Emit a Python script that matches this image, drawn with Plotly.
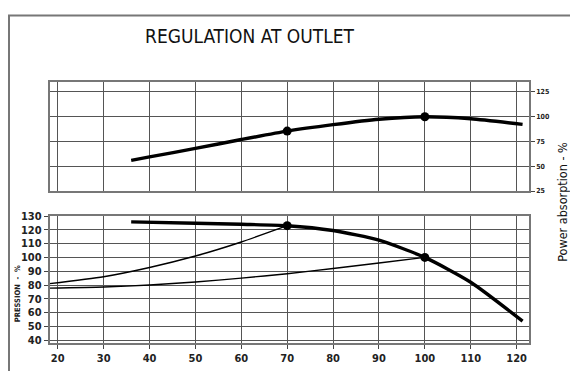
import plotly.graph_objects as go

# ---- data ----
flow_power = [36, 40, 50, 60, 70, 80, 90, 100, 110, 121.3]
power_pct = [56, 59.5, 68, 77, 85.5, 92, 97.5, 100, 98, 92.3]
power_pts_x = [70, 100]
power_pts_y = [85.5, 100]

flow_pump = [36, 50, 60, 70, 80, 90, 100, 110, 121.3]
pressure_pump = [125.8, 124.8, 124, 123, 119.5, 112.5, 100, 82, 53.8]

flow_sysA = [18.2, 30, 40, 50, 60, 70]
pressure_sysA = [81, 86, 92.7, 101, 111.2, 123]

flow_sysB = [18.2, 30, 40, 50, 60, 70, 80, 90, 100]
pressure_sysB = [77.7, 78.5, 80, 82.2, 85, 88.2, 92, 96, 100]

press_pts_x = [70, 100]
press_pts_y = [123, 100]

x_ticks = [20, 30, 40, 50, 60, 70, 80, 90, 100, 110, 120]
power_ticks = [25, 50, 75, 100, 125]
press_ticks = [40, 50, 60, 70, 80, 90, 100, 110, 120, 130]

# page is 578x375; the html body has an 8px margin, so the figure itself is 570x367
OFF = 8
W, H = 578 - OFF, 375 - OFF


def px(x):
    return (x - OFF) / W


def py(y):
    return 1 - (y - OFF) / H


FONT = "DejaVu Sans Condensed, Liberation Sans, Arial, sans-serif"
NARROW = "Liberation Sans Narrow, DejaVu Sans Condensed, Liberation Sans, sans-serif"

fig = go.Figure()

thick = dict(color="black", width=3.4, shape="spline", smoothing=0.6)
thin = dict(color="black", width=1.4, shape="spline", smoothing=0.6)
mk = dict(color="black", size=9)

fig.add_trace(go.Scatter(x=flow_power, y=power_pct, mode="lines", line=thick,
                         xaxis="x", yaxis="y", hoverinfo="skip"))
fig.add_trace(go.Scatter(x=power_pts_x, y=power_pts_y, mode="markers", marker=mk,
                         xaxis="x", yaxis="y"))

fig.add_trace(go.Scatter(x=flow_sysA, y=pressure_sysA, mode="lines", line=thin,
                         xaxis="x2", yaxis="y2"))
fig.add_trace(go.Scatter(x=flow_sysB, y=pressure_sysB, mode="lines", line=thin,
                         xaxis="x2", yaxis="y2"))
fig.add_trace(go.Scatter(x=flow_pump, y=pressure_pump, mode="lines", line=thick,
                         xaxis="x2", yaxis="y2"))
fig.add_trace(go.Scatter(x=press_pts_x, y=press_pts_y, mode="markers", marker=mk,
                         xaxis="x2", yaxis="y2"))

xdom = [px(49.5), px(529)]
grid = "#555555"
frame = "#777777"

common_x = dict(range=[18.2, 122.7], tickvals=x_ticks, showgrid=True, gridcolor=grid,
                gridwidth=1, zeroline=False, showline=True, linecolor=frame, linewidth=1.5,
                mirror=True, domain=xdom)

fig.update_layout(
    width=W, height=H, margin=dict(l=0, r=0, t=0, b=0),
    paper_bgcolor="white", plot_bgcolor="white", showlegend=False,
    xaxis=dict(**common_x, anchor="y", showticklabels=False, ticks=""),
    yaxis=dict(range=[25, 135], tickvals=power_ticks, side="right", anchor="x",
               domain=[py(190), py(78)], showgrid=True, gridcolor=grid,
               zeroline=False, showline=True, linecolor=frame, linewidth=1.5, mirror=True,
               ticks="outside", ticklen=4, tickcolor="#444",
               tickfont=dict(family=FONT, size=7, color="#222", weight="bold")),
    xaxis2=dict(**common_x, anchor="y2", ticks="outside", ticklen=4, tickcolor="#444",
                tickfont=dict(family=FONT, size=11, color="#222", weight="bold")),
    yaxis2=dict(range=[37.6, 130], tickvals=press_ticks, anchor="x2",
                domain=[py(346.7), py(215.7)], showgrid=True, gridcolor=grid,
                zeroline=False, showline=True, linecolor=frame, linewidth=1.5, mirror=True,
                ticks="outside", ticklen=4, tickcolor="#444",
                tickfont=dict(family=FONT, size=11, color="#222", weight="bold")),
    shapes=[
        dict(type="line", xref="paper", yref="paper", x0=px(9), x1=px(9),
             y0=0, y1=py(9.5), line=dict(color="#777", width=2)),
        dict(type="line", xref="paper", yref="paper", x0=px(8), x1=1,
             y0=py(9.5), y1=py(9.5), line=dict(color="#777", width=2)),
    ],
    annotations=[
        dict(text="REGULATION AT OUTLET", xref="paper", yref="paper",
             x=px(250), y=py(31), showarrow=False, xanchor="center", yanchor="middle",
             font=dict(family=NARROW, size=19, color="#111")),
        dict(text="Power absorption - %", xref="paper", yref="paper",
             x=px(563), y=py(201), showarrow=False, textangle=-90,
             xanchor="center", yanchor="middle",
             font=dict(family=NARROW, size=12.5, color="#111")),
        dict(text="PRESSION  -  %", xref="paper", yref="paper",
             x=px(17), y=py(296), showarrow=False, textangle=-90,
             xanchor="center", yanchor="middle",
             font=dict(family=FONT, size=7.5, color="#222", weight="bold")),
    ],
)

fig.write_html("out.html")
